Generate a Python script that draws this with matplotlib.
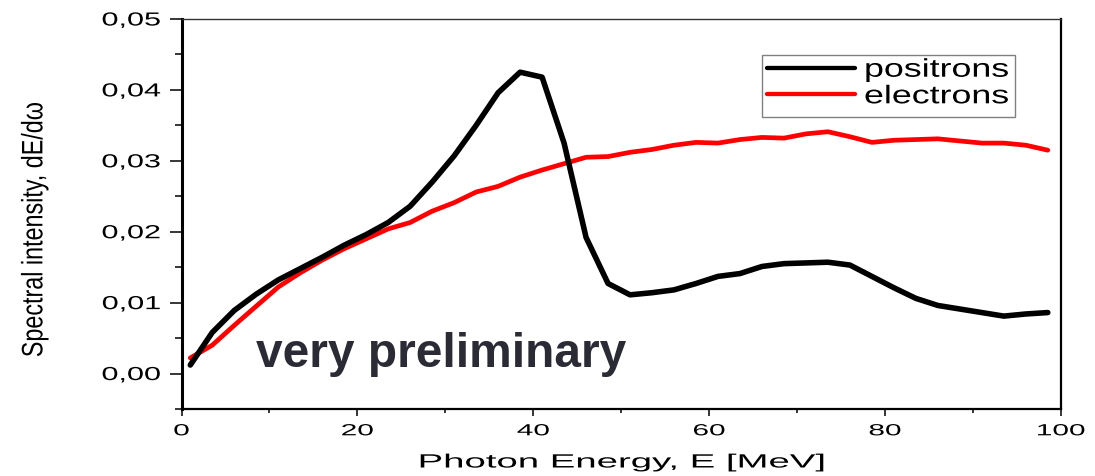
import matplotlib
matplotlib.use("Agg")
import matplotlib.pyplot as plt
import numpy as np
from matplotlib.patheffects import AbstractPathEffect
from matplotlib.transforms import Affine2D
from matplotlib.path import Path
from matplotlib.ticker import MultipleLocator, FuncFormatter
from matplotlib.lines import Line2D
from matplotlib.patches import Rectangle

# ---- data -------------------------------------------------------------
photon_energy = [1.0, 3.5, 6.0, 8.5, 11.0, 13.5, 16.0, 18.5, 21.0, 23.5,
                 26.0, 28.5, 31.0, 33.5, 36.0, 38.5, 41.0, 43.5, 46.0, 48.5,
                 51.0, 53.5, 56.0, 58.5, 61.0, 63.5, 66.0, 68.5, 71.0, 73.5,
                 76.0, 78.5, 81.0, 83.5, 86.0, 88.5, 91.0, 93.5, 96.0, 98.5]

positrons = [0.0012, 0.0058, 0.0089, 0.0112, 0.0132, 0.0148, 0.0164, 0.0181,
             0.0196, 0.0213, 0.0236, 0.0270, 0.0307, 0.0350, 0.0396, 0.0425,
             0.0418, 0.0325, 0.0192, 0.0127, 0.0111, 0.0114, 0.0118, 0.0127,
             0.0137, 0.0141, 0.0151, 0.0155, 0.0156, 0.0157, 0.0153, 0.0137,
             0.0121, 0.0106, 0.0096, 0.0091, 0.0086, 0.0081, 0.0084, 0.0086]

electrons = [0.0022, 0.0040, 0.0068, 0.0095, 0.0122, 0.0142, 0.0160, 0.0176,
             0.0190, 0.0204, 0.0213, 0.0229, 0.0241, 0.0256, 0.0264, 0.0277,
             0.0287, 0.0296, 0.0305, 0.0306, 0.0312, 0.0316, 0.0322, 0.0326,
             0.0325, 0.0330, 0.0333, 0.0332, 0.0338, 0.0341, 0.0334, 0.0326,
             0.0329, 0.0330, 0.0331, 0.0328, 0.0325, 0.0325, 0.0322, 0.0315]

series_names = ["positrons", "electrons"]
series_colors = ["#000000", "#ff0000"]

x_label = "Photon Energy, E [MeV]"
y_label = "Spectral intensity, dE/d\u03c9"
note = "very preliminary"

W, H = 1095, 476
FONT = "Liberation Sans"


class Stretch(AbstractPathEffect):
    """Scale glyph outlines (wide/condensed lettering) about an anchor."""

    def __init__(self, sx=1.0, sy=1.0, anchor="center"):
        super().__init__()
        self.sx, self.sy, self.anchor = sx, sy, anchor

    def draw_path(self, renderer, gc, tpath, affine, rgbFace=None):
        v = tpath.vertices
        if tpath.codes is not None:
            v = v[np.asarray(tpath.codes) != Path.CLOSEPOLY]
        x0 = y0 = 0.0
        if len(v):
            if self.anchor == "right":
                x0 = v[:, 0].max()
            elif self.anchor == "center":
                x0 = 0.5 * (v[:, 0].min() + v[:, 0].max())
            y0 = 0.5 * (v[:, 1].min() + v[:, 1].max())
        t = (Affine2D().translate(-x0, -y0).scale(self.sx, self.sy)
             .translate(x0, y0) + affine)
        renderer.draw_path(gc, tpath, t, rgbFace)


def fx(px):
    return px / W


def fy(py):
    return 1 - py / H


plt.rcParams["font.family"] = [FONT, "DejaVu Sans"]

fig = plt.figure(figsize=(W / 100, H / 100), dpi=100)
ax = fig.add_axes([fx(181.5), fy(409), fx(1061) - fx(181.5), fy(19) - fy(409)])

ax.plot(photon_energy, positrons, color=series_colors[0], lw=4.0,
        solid_joinstyle="round", solid_capstyle="round", zorder=3)
ax.plot(photon_energy, electrons, color=series_colors[1], lw=3.4,
        solid_joinstyle="round", solid_capstyle="round", zorder=2)

ax.set_xlim(0, 100)
ax.set_ylim(-0.005, 0.05)
ax.xaxis.set_major_locator(MultipleLocator(20))
ax.xaxis.set_minor_locator(MultipleLocator(10))
ax.yaxis.set_major_locator(MultipleLocator(0.01))
ax.yaxis.set_minor_locator(MultipleLocator(0.005))
ax.yaxis.set_major_formatter(FuncFormatter(lambda v, p: f"{v:.2f}".replace(".", ",")))
ax.xaxis.set_major_formatter(FuncFormatter(lambda v, p: f"{v:.0f}"))

ax.tick_params(axis="y", which="major", direction="out", length=8.6, width=1.1,
               pad=6.5, labelsize=13.6)
ax.tick_params(axis="y", which="minor", direction="out", length=5, width=1.1)
ax.tick_params(axis="x", which="major", direction="out", length=4.8, width=1.1,
               pad=5.5, labelsize=11.6)
ax.tick_params(axis="x", which="minor", direction="out", length=2.6, width=1.1)

ax.spines["left"].set_linewidth(2.2)
ax.spines["bottom"].set_linewidth(1.6)
ax.spines["right"].set_linewidth(1.6)
ax.spines["top"].set_linewidth(1.0)
ax.spines["top"].set_color("#333333")

# axis titles
fig.text(fx(35), fy(230), y_label, rotation=90, ha="center", va="center",
         fontsize=17.5, family=[FONT, "DejaVu Sans"],
         path_effects=[Stretch(sx=0.96, sy=1.22)])
fig.text(fx(622), fy(467.5), x_label, ha="center", va="baseline",
         fontsize=13.8, path_effects=[Stretch(sx=2.0, anchor="center")])

# annotation
fig.text(fx(256), fy(367), note, ha="left", va="baseline", fontsize=34.5,
         fontweight="bold", color="#2b2b36")

# legend box
box_l, box_t, box_r, box_b = 762, 55, 1015, 117
fig.add_artist(Rectangle((fx(box_l), fy(box_b)), fx(box_r) - fx(box_l),
                         fy(box_t) - fy(box_b), transform=fig.transFigure,
                         facecolor="white", edgecolor="#808080", lw=1.0,
                         zorder=5))
for name, color, yline, ybase in zip(series_names, series_colors,
                                     [68.3, 94.3], [76.7, 103.3]):
    fig.add_artist(Line2D([fx(767), fx(855)], [fy(yline), fy(yline)],
                          transform=fig.transFigure, color=color, lw=3.1,
                          solid_capstyle="round", zorder=6))
    fig.text(fx(864), fy(ybase), name, ha="left", va="baseline", fontsize=18.4,
             zorder=6, path_effects=[Stretch(sx=1.4, anchor="left")])

fig.canvas.draw()
for t in ax.yaxis.get_majorticklabels():
    t.set_path_effects([Stretch(sx=1.62, anchor="right")])
for t in ax.xaxis.get_majorticklabels():
    t.set_path_effects([Stretch(sx=1.85, anchor="center")])

fig.savefig("out.png", dpi=100)
